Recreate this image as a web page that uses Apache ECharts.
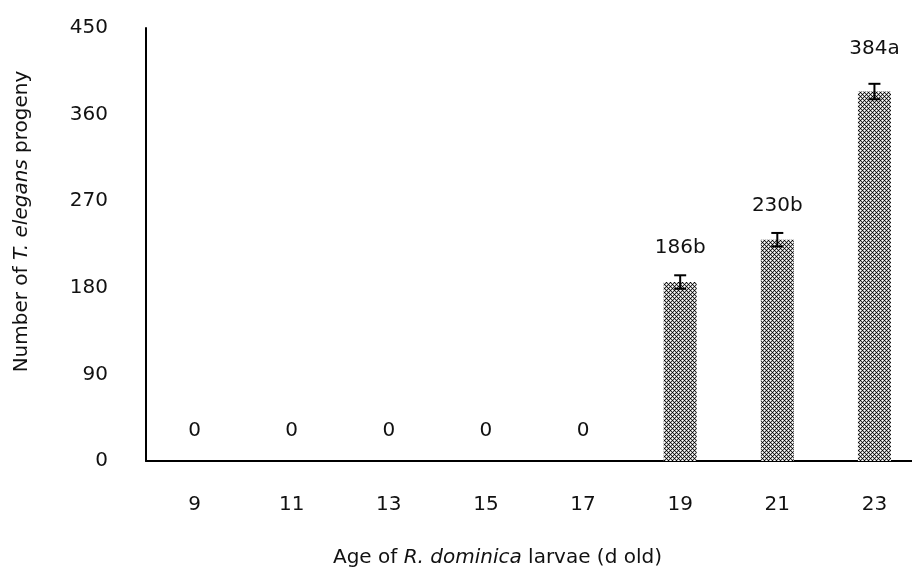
<!DOCTYPE html>
<html>
<head>
<meta charset="utf-8">
<script src="https://cdn.jsdelivr.net/npm/echarts@6/dist/echarts.min.js"></script>
<style>
  html, body { margin: 0; padding: 0; background: #fff; }
  #chart { width: 912px; height: 572px; }
</style>
</head>
<body>
<div id="chart"></div>
<script>
const ages = ['9', '11', '13', '15', '17', '19', '21', '23']
const progeny = [0, 0, 0, 0, 0, 186, 230, 384]
const errors = [0, 0, 0, 0, 0, 7, 7, 8]
const letters = ['0', '0', '0', '0', '0', '186b', '230b', '384a']
const yTicks = [0, 90, 180, 270, 360, 450]

// little tile that imitates the dotted-diamond fill of the bars
function makePattern() {
  const c = document.createElement('canvas')
  c.width = 4
  c.height = 4
  const ctx = c.getContext('2d')
  const px = (x, y, col) => { ctx.fillStyle = col; ctx.fillRect(x, y, 1, 1) }
  // dark diagonal lattice
  px(0, 0, '#000'); px(2, 2, '#000')
  px(1, 1, '#333'); px(3, 3, '#333'); px(1, 3, '#333'); px(3, 1, '#333')
  // white crosses, softer arms
  px(0, 2, '#fff'); px(2, 0, '#fff')
  px(0, 1, '#bbb'); px(0, 3, '#bbb'); px(1, 2, '#bbb'); px(3, 2, '#bbb')
  px(1, 0, '#bbb'); px(3, 0, '#bbb'); px(2, 1, '#bbb'); px(2, 3, '#bbb')
  return c
}

const font = 'DejaVu Sans'
const fs = 20
const chart = echarts.init(document.getElementById('chart'))

const option = {
  animation: false,
  grid: {
    left: 146, right: -11, top: 28, bottom: 111,
    containLabel: false, outerBoundsMode: 'none'
  },
  xAxis: {
    type: 'category',
    data: ages,
    axisLine: { lineStyle: { color: '#000', width: 2 } },
    axisTick: { show: false },
    axisLabel: { color: '#111', fontSize: fs, fontFamily: font, margin: 34 },
    name: 'Age of {i|R. dominica} larvae (d old)',
    nameLocation: 'middle',
    nameGap: 87,
    nameTextStyle: {
      color: '#111', fontSize: fs, fontFamily: font,
      padding: [0, 74, 0, 0],
      rich: { i: { fontStyle: 'italic', fontSize: fs, fontFamily: font, color: '#111' } }
    }
  },
  yAxis: {
    type: 'value',
    min: yTicks[0],
    max: yTicks[yTicks.length - 1],
    interval: 90,
    splitLine: { show: false },
    axisLine: { show: true, lineStyle: { color: '#000', width: 2 } },
    axisTick: { show: false },
    axisLabel: { color: '#111', fontSize: fs, fontFamily: font, margin: 38 },
    name: 'Number of {i|T. elegans} progeny',
    nameLocation: 'middle',
    nameGap: 114,
    nameTextStyle: {
      color: '#111', fontSize: fs, fontFamily: font,
      padding: [0, 0, 0, 46],
      rich: { i: { fontStyle: 'italic', fontSize: fs, fontFamily: font, color: '#111' } }
    }
  },
  series: [
    {
      type: 'bar',
      barWidth: 33,
      data: progeny.map((v, i) => ({
        value: v,
        label: { distance: v === 0 ? 20 : (i === 7 ? 33 : 24) }
      })),
      itemStyle: { color: { image: makePattern(), repeat: 'repeat' } },
      label: {
        show: true,
        position: 'top',
        color: '#111',
        fontSize: fs,
        fontFamily: font,
        formatter: p => letters[p.dataIndex]
      }
    },
    {
      type: 'custom',
      data: progeny.map((v, i) => [i, v, errors[i]]),
      z: 5,
      renderItem: function (params, api) {
        const e = api.value(2)
        if (!e) return null
        const lo = api.coord([api.value(0), api.value(1) - e])
        const hi = api.coord([api.value(0), api.value(1) + e])
        const x = lo[0]
        const style = { stroke: '#000', lineWidth: 2 }
        return {
          type: 'group',
          children: [
            { type: 'line', shape: { x1: x, y1: lo[1], x2: x, y2: hi[1] }, style },
            { type: 'line', shape: { x1: x - 6, y1: lo[1], x2: x + 6, y2: lo[1] }, style },
            { type: 'line', shape: { x1: x - 6, y1: hi[1], x2: x + 6, y2: hi[1] }, style }
          ]
        }
      }
    }
  ]
}

chart.setOption(option)
</script>
</body>
</html>
